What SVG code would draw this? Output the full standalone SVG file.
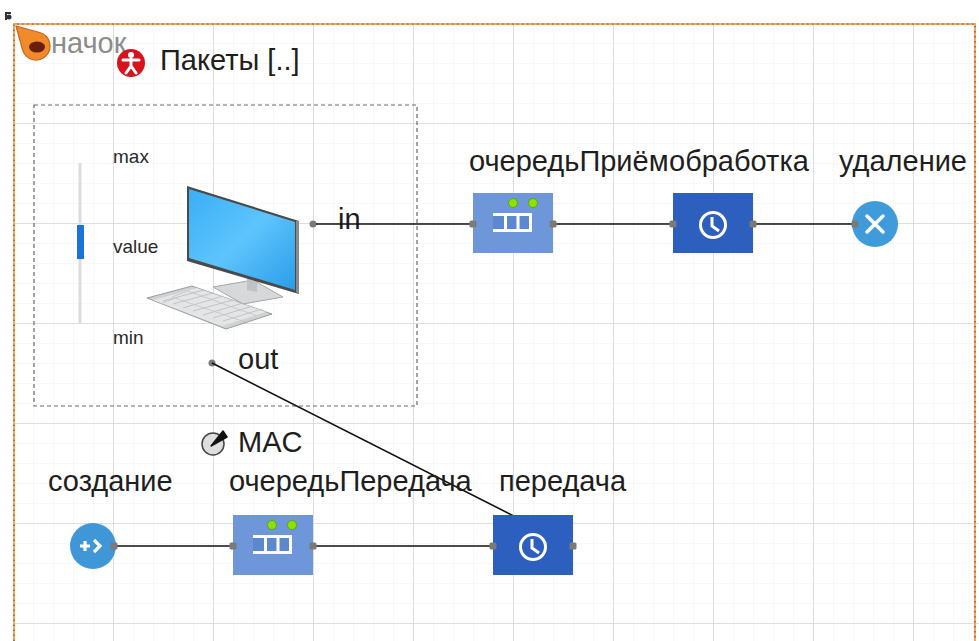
<svg xmlns="http://www.w3.org/2000/svg" width="979" height="641" viewBox="0 0 979 641">
  <defs>
    <pattern id="minor" x="14" y="24" width="20" height="20" patternUnits="userSpaceOnUse">
      <path d="M20 0V20M0 20H20" fill="none" stroke="#f0f0f0" stroke-width="1"/>
    </pattern>
    <pattern id="major" x="14" y="24" width="100" height="100" patternUnits="userSpaceOnUse">
      <path d="M100 0V100M0 100H100" fill="none" stroke="#d6d6d6" stroke-width="1.5"/>
    </pattern>
    <linearGradient id="screen" x1="0" y1="0" x2="1" y2="1">
      <stop offset="0" stop-color="#3aaef5"/>
      <stop offset="0.5" stop-color="#5ec4fc"/>
      <stop offset="1" stop-color="#2a9de9"/>
    </linearGradient>
    <g id="port"><rect x="-3.5" y="-3.5" width="7" height="7" rx="1.5" fill="#7a7a7a"/></g>
  </defs>
  <style>
    .lbl { font-family: "Liberation Sans", Arial, sans-serif; font-size: 29px; fill: #1e1e1e; }
    .small { font-family: "Liberation Sans", Arial, sans-serif; font-size: 19px; fill: #2a2a2a; }
    .wire { stroke: #111; stroke-width: 1.6; fill: none; }
    .queue { fill: #6e97da; }
    .cell { fill: #5c88d0; stroke: #fff; stroke-width: 3; }
    .delay { fill: #2d5fbf; }
    .dot { fill: #8ee000; stroke: #5aa000; stroke-width: 0.8; }
  </style>

  <!-- canvas -->
  <rect width="979" height="641" fill="#ffffff"/>
  <rect x="14" y="24" width="965" height="617" fill="url(#minor)"/>
  <rect x="14" y="24" width="965" height="617" fill="url(#major)"/>

  <!-- frame of the root agent -->
  <g id="frame">
    <path d="M14 641V24H975V641" fill="none" stroke="#f2a860" stroke-width="2"/>
    <path d="M14 641V24H975V641" fill="none" stroke="#7a5030" stroke-width="1.2" stroke-dasharray="1.5,3.5"/>
    <path d="M6 20V13H11" fill="none" stroke="#333" stroke-width="2"/>
    <circle cx="9" cy="17" r="2.5" fill="#333"/>
  </g>

  <!-- start icon -->
  <g id="start">
    <text x="51" y="53" class="lbl" style="fill:#8c8c8c">начок</text>
    <path d="M16 26 L39.7 32.5 A14 14 0 1 1 22.5 49.7 Z" fill="#f08a2a" stroke="#c86418" stroke-width="1.2" stroke-linejoin="round"/>
    <ellipse cx="37" cy="47" rx="8" ry="5.5" fill="#6a1e10"/>
  </g>

  <!-- packets population -->
  <g id="packets">
    <circle cx="131" cy="63" r="14" fill="#d7141e"/>
    <circle cx="131" cy="55" r="3" fill="#fff"/>
    <path d="M123 60H139M131 59V66M131 66L126 73M131 66L136 73" stroke="#fff" stroke-width="3" fill="none" stroke-linecap="round"/>
    <text x="160" y="70" class="lbl">Пакеты [..]</text>
  </g>

  <!-- computer with slider -->
  <g id="computer">
    <rect x="34" y="105" width="383" height="301" fill="none" stroke="#6a6a6a" stroke-width="1.2" stroke-dasharray="4,3"/>
    <line x1="80" y1="163" x2="80" y2="323" stroke="#dcdcdc" stroke-width="3"/>
    <rect x="77" y="225" width="7" height="34" fill="#1a74d6"/>
    <text x="113" y="163" class="small">max</text>
    <text x="113" y="253" class="small">value</text>
    <text x="113" y="344" class="small">min</text>
    <!-- keyboard -->
    <path d="M147 298L192 286L272 314L226 329Z" fill="#cfd1d3" stroke="#9a9c9e" stroke-width="1"/>
    <path d="M153 300L197 288L266 312L222 326Z" fill="#e4e5e6"/>
    <path d="M163 301L204 290M173 304L213 293M183 308L223 296M193 311L233 300M203 315L243 303M213 318L253 306M223 321L262 309" stroke="#c2c4c6" stroke-width="1"/>
    <path d="M160 304L175 298L245 322M172 297L188 291L257 316" stroke="#c2c4c6" stroke-width="0.8" fill="none"/>
    <!-- stand -->
    <path d="M213 287L253 280L283 297L243 304Z" fill="#d6d8da" stroke="#a4a6a8" stroke-width="1"/>
    <path d="M247 277L257 280L257 292L247 290Z" fill="#c0c2c4"/>
    <!-- monitor -->
    <path d="M187 186L299 221L299 294L187 261Z" fill="#4a4a4a"/>
    <path d="M296 221L299 221L299 294L296 292Z" fill="#8a8a8a"/>
    <path d="M189 189L295 222L295 290L189 258Z" fill="url(#screen)"/>
    <circle cx="313" cy="224" r="3.5" fill="#7a7a7a"/>
    <text x="338" y="229" class="lbl">in</text>
    <circle cx="212" cy="363" r="3.5" fill="#7a7a7a"/>
    <text x="238" y="369" class="lbl">out</text>
  </g>

  <!-- connectors -->
  <g id="connectors">
    <line class="wire" x1="316" y1="224" x2="470" y2="224"/>
    <line class="wire" x1="556" y1="224" x2="670" y2="224"/>
    <line class="wire" x1="756" y1="224" x2="852" y2="224"/>
    <line class="wire" x1="212" y1="363" x2="573" y2="546"/>
    <line class="wire" x1="117" y1="546" x2="230" y2="546"/>
    <line class="wire" x1="316" y1="546" x2="490" y2="546"/>
  </g>

  <!-- receive queue -->
  <g id="queueRx">
    <rect class="queue" x="473" y="193" width="80" height="60"/>
    <circle class="dot" cx="513" cy="203" r="4.5"/>
    <circle class="dot" cx="533" cy="203" r="4.5"/>
    <path class="cell" d="M493 214.5H530.5V230.5H493M505.5 214.5V230.5M518 214.5V230.5"/>
    <use href="#port" x="473" y="224"/>
    <use href="#port" x="553" y="224"/>
    <text x="469" y="171" class="lbl">очередьПриём</text>
  </g>

  <!-- processing delay -->
  <g id="processing">
    <rect class="delay" x="673" y="193" width="80" height="60"/>
    <circle cx="713" cy="225" r="12.5" fill="none" stroke="#fff" stroke-width="3"/>
    <path d="M712 217V226L719 231" fill="none" stroke="#fff" stroke-width="3"/>
    <use href="#port" x="673" y="224"/>
    <use href="#port" x="753" y="224"/>
    <text x="669" y="171" class="lbl">обработка</text>
  </g>

  <!-- sink -->
  <g id="removal">
    <circle cx="875" cy="224" r="23" fill="#3f9bd9"/>
    <path d="M867 216L883 232M883 216L867 232" stroke="#fff" stroke-width="3.5" stroke-linecap="round"/>
    <use href="#port" x="855" y="224"/>
    <text x="839" y="171" class="lbl">удаление</text>
  </g>

  <!-- MAC variable -->
  <g id="mac">
    <circle cx="213" cy="444" r="11" fill="#dedede" stroke="#444" stroke-width="1.5"/>
    <path d="M211 446L223 431L227 437Z" fill="#111" stroke="#111" stroke-width="1.5" stroke-linejoin="round"/>
    <text x="238" y="452" class="lbl">MAC</text>
  </g>

  <!-- source -->
  <g id="creation">
    <circle cx="93" cy="546" r="23" fill="#3f97d7"/>
    <path d="M80 546H90M85 541V551M94 540L100 546L94 552" fill="none" stroke="#fff" stroke-width="3.2"/>
    <use href="#port" x="114" y="546"/>
    <text x="48" y="491" class="lbl">создание</text>
  </g>

  <!-- transmit queue -->
  <g id="queueTx">
    <rect class="queue" x="233" y="515" width="80" height="60"/>
    <circle class="dot" cx="272" cy="525" r="4.5"/>
    <circle class="dot" cx="292" cy="525" r="4.5"/>
    <path class="cell" d="M253 536.5H290.5V552.5H253M265.5 536.5V552.5M278 536.5V552.5"/>
    <use href="#port" x="233" y="546"/>
    <use href="#port" x="313" y="546"/>
    <text x="229" y="491" class="lbl">очередьПередача</text>
  </g>

  <!-- transmit delay -->
  <g id="transmit">
    <rect class="delay" x="493" y="515" width="80" height="60"/>
    <circle cx="533" cy="547" r="12.5" fill="none" stroke="#fff" stroke-width="3"/>
    <path d="M532 539V548L539 553" fill="none" stroke="#fff" stroke-width="3"/>
    <use href="#port" x="493" y="546"/>
    <use href="#port" x="573" y="546"/>
    <text x="499" y="491" class="lbl">передача</text>
  </g>
</svg>
